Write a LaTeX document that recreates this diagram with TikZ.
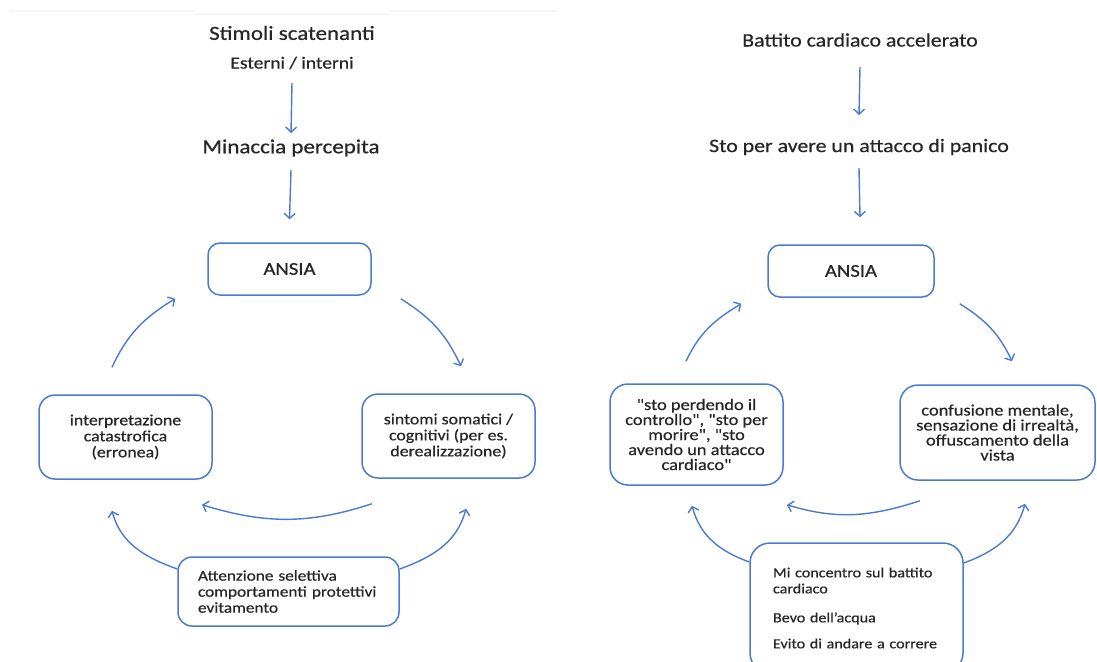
\documentclass[tikz,border=0pt]{standalone}
\usepackage{fontspec}
\setmainfont{Carlito}[FakeStretch=1.15, FakeBold=0.5, Ligatures=TeXOff]
\usetikzlibrary{arrows.meta,calc}
\definecolor{lblue}{HTML}{4A7BD0}
\definecolor{txt}{HTML}{262626}
\begin{document}
\begin{tikzpicture}[x=1pt,y=-1pt,
  conn/.style={draw=lblue, line width=1.4pt, -{Straight Barb[length=5pt,width=11pt]}},
  box/.style={draw=lblue, line width=1.5pt, rounded corners=14pt, text=txt, align=center, inner sep=0pt},
  ttl/.style={text=txt, font=\fontsize{19}{22}\selectfont, inner sep=0pt},
  sub/.style={text=txt, font=\fontsize{17}{20}\selectfont, inner sep=0pt},
  btxt/.style={font=\fontsize{15.5}{16}\selectfont},
  rtxt/.style={font=\fontsize{16}{15}\selectfont}]
\useasboundingbox[fill=white] (0,0) rectangle (1097,661);
% faint top rule
\draw[gray!8, line width=1.5pt] (10,11) -- (195,11) (195,14) -- (389,14) (389,11) -- (556,11);

% ---------- left panel ----------
\node[ttl, font=\fontsize{20}{22}\selectfont] (stim) at (292,33) {Stimoli scatenanti};
\node[sub] (est) at (292,63) {Esterni / interni};
\node[ttl, font=\fontsize{20}{22}\selectfont] (minL) at (291,148) {Minaccia percepita};
\node[box, font=\fontsize{18}{18}\selectfont, minimum width=163pt, minimum height=52pt, rounded corners=12pt] (ansiaL) at (289.5,269) {ANSIA};
\node[box, btxt, minimum width=173pt, minimum height=84pt, rounded corners=16pt] (interp) at (125.5,437) {interpretazione\\catastrofica\\(erronea)};
\node[box, btxt, minimum width=173pt, minimum height=84pt, rounded corners=16pt] (sint) at (448.5,436) {sintomi somatici /\\cognitivi (per es.\\derealizzazione)};
\node[box, font=\fontsize{15}{16}\selectfont, align=left, inner xsep=20pt, text width=181pt, minimum height=69pt, rounded corners=14pt] (att) at (288.5,591.5) {Attenzione selettiva\\comportamenti protettivi\\evitamento};

\draw[conn] ($(est.center)+(0,20)$) -- ($(minL.center)+(0,-15)$);
\draw[conn] ($(minL.center)+(0,22)$) -- ($(ansiaL.north)+(0,-23)$);
\draw[conn] ($(interp.north)+(-13.5,-27)$) to[out=65,in=211] ($(ansiaL.south west)+(-32,3)$);
\draw[conn] ($(ansiaL.south east)+(29,3)$) to[out=-32,in=115] ($(sint.north)+(12.5,-27)$);
\draw[conn] ($(sint.south)+(-76.5,25)$) to[out=198,in=343] ($(interp.south)+(76.5,25)$);
\draw[conn] ($(att.west)+(0,-22.5)$) to[out=160,in=-75] ($(interp.south)+(-13.5,31)$);
\draw[conn] ($(att.east)+(0,-22.5)$) to[out=20,in=-105] ($(sint.south)+(17.5,30)$);

% ---------- right panel ----------
\node[ttl] (batt) at (860,40) {Battito cardiaco accelerato};
\node[ttl] (sto) at (859,147) {Sto per avere un attacco di panico};
\node[box, font=\fontsize{18}{18}\selectfont, minimum width=166pt, minimum height=52pt, rounded corners=12pt] (ansiaR) at (851,271) {ANSIA};
\node[box, rtxt, minimum width=173pt, minimum height=101pt, rounded corners=18pt] (pers) at (696.5,434.5) {"sto perdendo il\\controllo", "sto per\\morire", "sto\\avendo un attacco\\cardiaco"};
\node[box, rtxt, minimum width=195pt, minimum height=95pt, rounded corners=18pt] (conf) at (997.5,432.5) {confusione mentale,\\sensazione di irrealtà,\\offuscamento della\\vista};
\node[box, font=\fontsize{14}{16}\selectfont, align=left, inner xsep=23pt, text width=167pt, minimum height=130pt, rounded corners=20pt] (mic) at (856.5,608) {Mi concentro sul battito\\cardiaco\\[13pt]Bevo dell’acqua\\[10pt]Evito di andare a correre};

\draw[conn] ($(batt.center)+(0,27)$) -- ($(sto.center)+(0,-32)$);
\draw[conn] ($(sto.center)+(0,21)$) -- ($(ansiaR.north)+(9,-27)$);
\draw[conn] ($(pers.north)+(-10.5,-22)$) to[out=65,in=211] ($(ansiaR.south west)+(-26,6)$);
\draw[conn] ($(ansiaR.south east)+(25,6)$) to[out=-32,in=115] ($(conf.north)+(14.5,-23)$);
\draw[conn] ($(conf.south)+(-77.5,20)$) to[out=198,in=343] ($(pers.south)+(90.5,19)$);
\draw[conn] ($(mic.west)+(0,-46)$) to[out=160,in=-75] ($(pers.south)+(-4.5,20)$);
\draw[conn] ($(mic.east)+(0,-45)$) to[out=20,in=-105] ($(conf.south)+(27.5,23)$);
\end{tikzpicture}
\end{document}
